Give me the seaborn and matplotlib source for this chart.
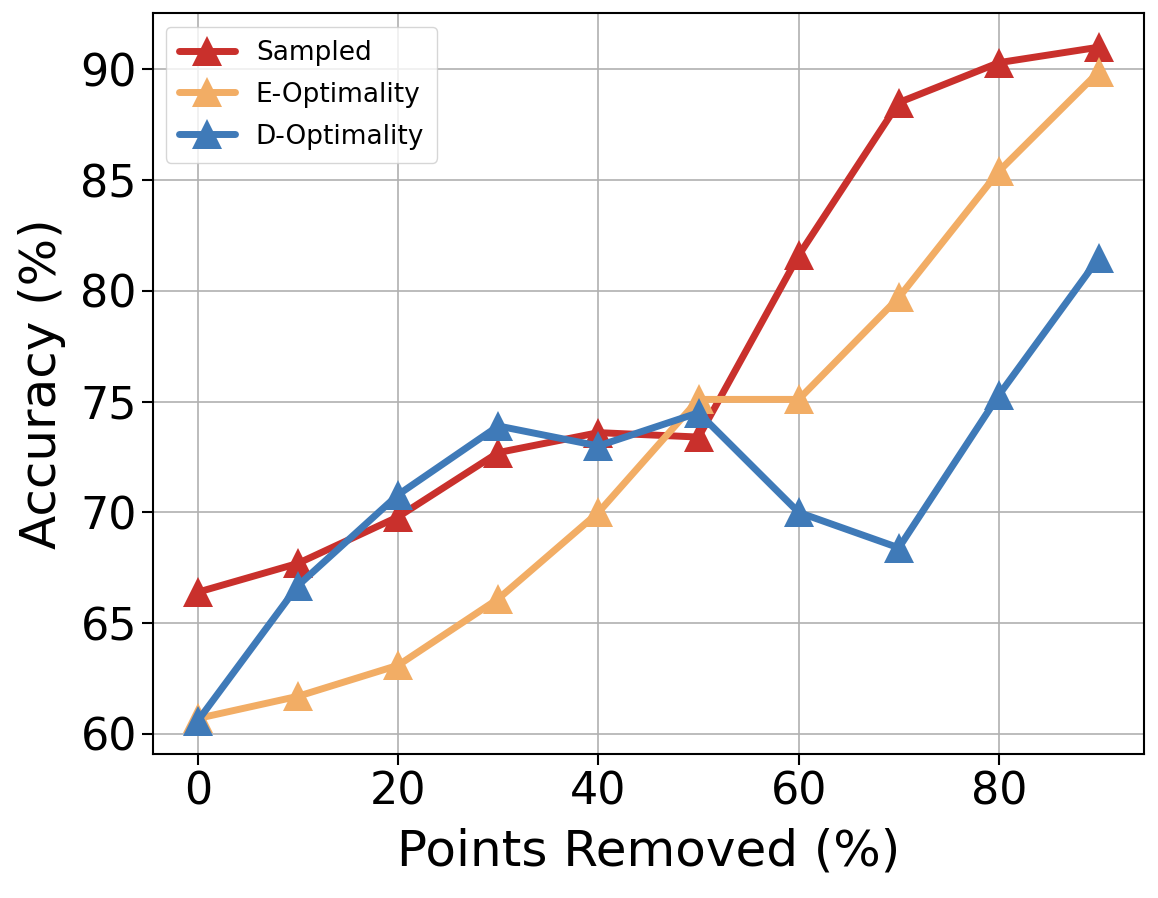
import matplotlib
matplotlib.use("Agg")
import matplotlib.pyplot as plt
import seaborn as sns
import pandas as pd

x = [0, 10, 20, 30, 40, 50, 60, 70, 80, 90]
sampled = [66.4, 67.7, 69.8, 72.7, 73.6, 73.4, 81.6, 88.5, 90.3, 91.0]
e_opt = [60.7, 61.7, 63.1, 66.1, 70.0, 75.1, 75.1, 79.7, 85.4, 89.9]
d_opt = [60.6, 66.7, 70.8, 73.9, 73.0, 74.5, 70.0, 68.4, 75.3, 81.5]
names = ["Sampled", "E-Optimality", "D-Optimality"]
colors = ["#c9302c", "#f2ad65", "#3f7ab8"]

df = pd.concat([
    pd.DataFrame({"x": x, "y": v, "method": n})
    for n, v in zip(names, [sampled, e_opt, d_opt])
])

sns.set_style("white")
plt.rcParams["font.family"] = ["DejaVu Sans"]
for k in ["text.color", "axes.labelcolor", "xtick.color", "ytick.color"]:
    plt.rcParams[k] = "black"
fig, ax = plt.subplots(figsize=(11.58, 8.98), dpi=100)
sns.lineplot(data=df, x="x", y="y", hue="method", palette=colors,
             hue_order=names, marker="^", markersize=22, linewidth=5,
             markeredgewidth=0, ax=ax)
ax.grid(True, color="#b0b0b0", linewidth=1.2)
ax.set_axisbelow(True)
for s in ax.spines.values():
    s.set_color("black")
    s.set_linewidth(1.5)
ax.tick_params(axis="both", labelsize=32, length=8, width=1.5, left=True, bottom=True)
ax.set_xticks([0, 20, 40, 60, 80])
ax.set_yticks([60, 65, 70, 75, 80, 85, 90])
ax.set_xlabel("Points Removed (%)", fontsize=36, labelpad=10)
ax.set_ylabel("Accuracy (%)", fontsize=36, labelpad=10)
ax.legend(loc="upper left", fontsize=19, handlelength=2.1, labelspacing=0.6,
          framealpha=0.8, borderpad=0.5)
fig.subplots_adjust(left=0.132, right=0.988, top=0.985, bottom=0.16)
fig.savefig("out.png", dpi=100)
